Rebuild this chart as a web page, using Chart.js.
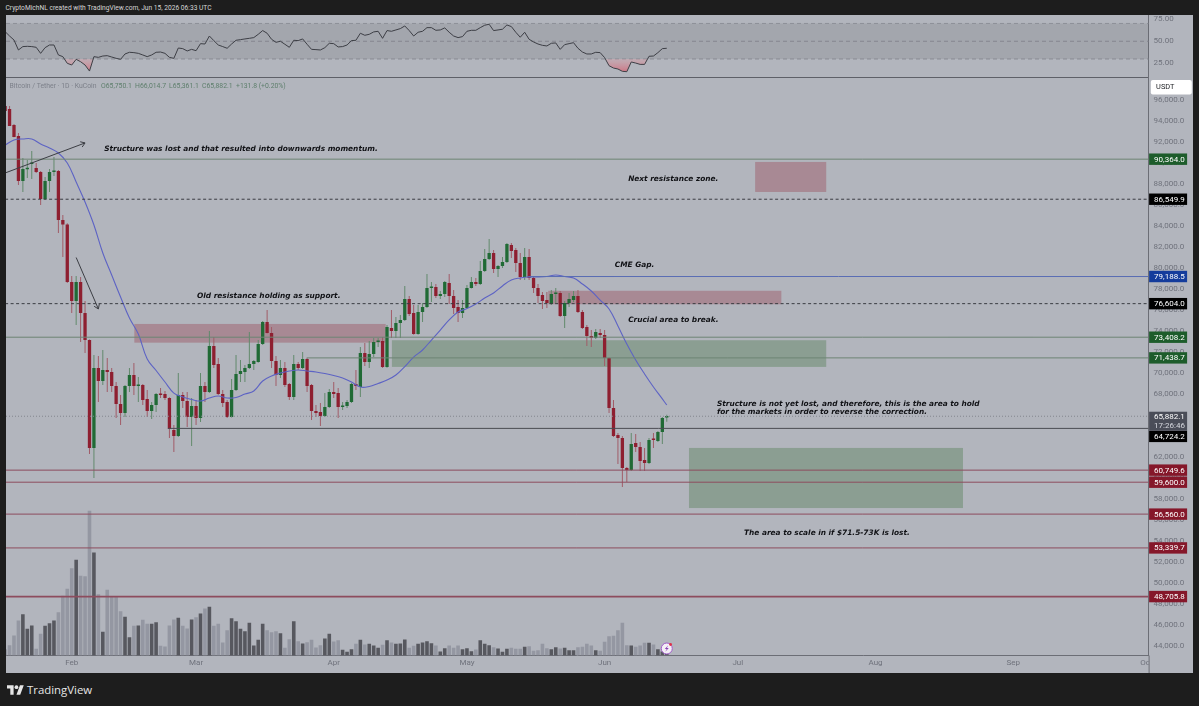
<!DOCTYPE html>
<html>
<head>
<meta charset="utf-8">
<title>BTC / USDT chart</title>
<script src="https://cdn.jsdelivr.net/npm/chart.js@4"></script>
<style>
    html, body { margin: 0; padding: 0; width: 1199px; height: 706px; overflow: hidden; background: #1d1d1d; }
    #panel { position: absolute; left: 6px; top: 15px; width: 1187px; height: 658px; background: #b2b5bd; }
    canvas { position: absolute; display: block; filter: blur(0.3px); }
    #rsiChart { left: 6px; top: 15px; }
    #priceChart { left: 6px; top: 78px; }
    .txt { position: absolute; white-space: nowrap; font-family: Roboto, sans-serif; }
    #header { left: 5.5px; top: 2px; font-size: 6.65px; line-height: 12px; color: #d6d6d6; }
    #symbol { left: 9.5px; top: 80px; font-size: 6.85px; line-height: 12px; color: #7d808a; }
    .ohlc { top: 80px; font-size: 6.85px; line-height: 12px; color: #5e7f6c; }
    #brand { left: 27px; top: 681px; font-size: 11.4px; line-height: 18px; font-weight: 500; color: #e6e6e6; font-family: "Open Sans", sans-serif; }
    #logo { position: absolute; left: 6.5px; top: 683px; }
</style>
</head>
<body>
<div id="panel"></div>
<canvas id="rsiChart" width="1187" height="63"></canvas>
<canvas id="priceChart" width="1187" height="595"></canvas>
<div class="txt" id="header">CryptoMichNL created with TradingView.com, Jun 15, 2026 06:33 UTC</div>
<div class="txt" id="symbol">Bitcoin / Tether · 1D · KuCoin</div>
<div class="txt ohlc" style="left:101px">O65,750.1</div>
<div class="txt ohlc" style="left:135px">H66,014.7</div>
<div class="txt ohlc" style="left:169px">L65,361.1</div>
<div class="txt ohlc" style="left:202px">C65,882.1</div>
<div class="txt ohlc" style="left:236px">+131.8 (+0.20%)</div>
<svg id="logo" width="17" height="14" viewBox="0 0 36 28"><path fill="#e6e6e6" d="M14 24H7V11H0V4h14v20zM28 24h-8l7.5-20h8L28 24z"/><circle fill="#e6e6e6" cx="20" cy="8" r="4"/></svg>
<div class="txt" id="brand">TradingView</div>

<script>
// daily candles, first one is 15 days before Feb 1 (day 0 = Feb 1)
const firstDay = -15;

const opens = [
    95430, 95140, 93620, 92570, 88290, 89400, 89910, 89520, 89140, 86570,
    88290, 89140, 89240, 84570, 84150, 78670, 76860, 78670, 75710, 73140,
    62860, 70480, 69240, 70290, 70100, 68760, 67050, 66190, 68760, 69810,
    68760, 68860, 67520, 66380, 66950, 67990, 67990, 67620, 64570, 64000,
    67900, 67330, 65810, 66860, 65710, 68760, 68190, 72570, 70860, 67990,
    67240, 65810, 68380, 69900, 70100, 70480, 70860, 71050, 72760, 74860,
    73810, 71140, 69810, 70480, 68950, 67720, 70860, 70480, 71330, 68860,
    66380, 66290, 65900, 66760, 68190, 68090, 66760, 66860, 67240, 68950,
    68670, 71900, 71050, 71810, 72950, 73050, 70570, 74280, 74000, 74760,
    75050, 77050, 75710, 73710, 75810, 76290, 78100, 78190, 77330, 77520,
    78570, 77330, 76290, 75710, 76190, 78100, 78670, 78480, 79710, 80860,
    81430, 79900, 80190, 80570, 82190, 81710, 80480, 79140, 81050, 79050,
    78100, 77430, 76950, 76570, 77520, 77620, 75430, 76670, 76950, 77330,
    75810, 74380, 73520, 73330, 73810, 73620, 71430, 66670, 64100, 63810,
    60950, 60760, 63330, 62950, 61710, 61430, 63710, 63520, 64380, 65750
];
const highs = [
    95520, 95430, 93710, 92860, 90480, 90290, 91140, 90000, 89240, 88670,
    89430, 90570, 89330, 85050, 84250, 79240, 79240, 79140, 76860, 73200,
    71710, 71620, 72190, 71430, 70480, 69140, 67900, 68860, 70480, 70950,
    69620, 68950, 68380, 67240, 68090, 68570, 68290, 67700, 65050, 70000,
    68190, 68190, 67620, 67430, 70000, 69140, 74000, 73430, 71430, 68380,
    67430, 69430, 71710, 71240, 70760, 73900, 71240, 73140, 74950, 76000,
    74380, 71620, 71240, 71050, 69050, 71710, 71050, 72000, 71430, 68950,
    66950, 67140, 68090, 68480, 69140, 68570, 67240, 67430, 69050, 70290,
    72480, 72860, 73050, 73330, 73330, 73430, 74570, 76000, 75330, 75520,
    78290, 77330, 76480, 76480, 76670, 79430, 78670, 78480, 77810, 78760,
    79430, 77900, 76950, 76950, 78380, 79140, 79050, 80670, 81810, 82760,
    81710, 80290, 81050, 82380, 82380, 81900, 81430, 81900, 81810, 79140,
    78480, 77710, 77710, 77900, 78100, 77810, 76860, 77620, 77810, 77900,
    76000, 74570, 74090, 74190, 74190, 74090, 71500, 67430, 64290, 64000,
    61050, 64290, 64190, 63430, 62860, 63810, 64290, 64480, 65810, 66014.7
];
const lows = [
    94860, 93530, 92450, 87910, 87240, 88570, 88480, 89050, 86000, 86480,
    87240, 88760, 83330, 81050, 78570, 75710, 74570, 72950, 71900, 62290,
    60000, 67240, 68860, 68190, 68190, 65710, 65050, 65810, 68190, 67900,
    67240, 66950, 65810, 65620, 66290, 67620, 67430, 63810, 62480, 63900,
    66670, 64860, 63050, 65050, 65330, 67240, 68100, 70480, 67900, 66760,
    65710, 65750, 68290, 69140, 69140, 70380, 70290, 70980, 72670, 73750,
    70480, 68760, 69530, 68670, 67430, 67430, 70290, 70380, 68190, 65520,
    65810, 64950, 65810, 66670, 67620, 65710, 66480, 66670, 67140, 68380,
    67720, 70670, 70480, 71520, 72480, 70480, 70500, 73330, 73330, 73330,
    74950, 75430, 73650, 73650, 74860, 76190, 76760, 77140, 77050, 77240,
    76570, 75620, 74860, 75240, 76150, 78050, 78290, 78380, 79620, 80760,
    79520, 79140, 80000, 80480, 80950, 79620, 78860, 78860, 78860, 77620,
    76670, 76100, 76190, 76480, 76670, 75330, 74280, 76290, 76760, 75710,
    74190, 72570, 72480, 73240, 73330, 70670, 66190, 63900, 61330, 59140,
    59620, 60670, 62480, 60670, 60670, 61330, 62860, 63430, 63240, 65361.1
];
const closes = [
    94950, 93530, 92480, 88290, 89430, 89520, 90000, 89140, 86570, 88290,
    89140, 89240, 84570, 84150, 78670, 76860, 78670, 75710, 73140, 62860,
    70480, 69240, 70290, 70100, 68760, 67050, 66190, 68760, 69810, 68760,
    68860, 67430, 66380, 66950, 67990, 67900, 67620, 64670, 64000, 67900,
    67330, 65810, 66860, 65710, 68760, 68190, 72570, 70760, 67990, 67140,
    65810, 68380, 69900, 70190, 70480, 70860, 71140, 72760, 74860, 73810,
    71140, 69810, 70480, 68860, 67720, 70860, 70480, 71330, 68760, 66380,
    66190, 65900, 66760, 68190, 67990, 66760, 66860, 67240, 68950, 68760,
    71900, 71050, 71810, 72950, 73050, 70570, 74380, 74000, 74760, 75050,
    77050, 75620, 73710, 75810, 76290, 78100, 78190, 77330, 77520, 78670,
    77330, 76190, 75710, 76190, 78100, 78670, 78480, 79710, 80860, 81430,
    79900, 80190, 80570, 82290, 81620, 80480, 79140, 81050, 79050, 78100,
    77330, 76860, 76670, 77520, 77620, 75430, 76670, 77050, 77330, 75810,
    74280, 73520, 73330, 73900, 73620, 71430, 66670, 64000, 63810, 60950,
    60760, 63240, 62950, 61620, 61430, 63620, 63620, 64380, 65710, 65882.1
];
const volumes = [
    19, 31, 60, 105, 124, 80, 90, 20, 65, 89,
    97, 105, 130, 179, 200, 262, 287, 239, 238, 434,
    309, 184, 71, 197, 177, 177, 133, 116, 55, 89,
    90, 107, 95, 95, 100, 29, 27, 90, 108, 113,
    89, 81, 108, 115, 126, 141, 146, 89, 95, 39,
    76, 112, 103, 80, 73, 98, 30, 47, 95, 76,
    70, 73, 67, 23, 49, 103, 43, 36, 40, 47,
    24, 31, 51, 65, 42, 46, 17, 11, 19, 35,
    47, 33, 35, 30, 23, 32, 46, 39, 35, 36,
    48, 23, 29, 35, 39, 43, 37, 30, 12, 22,
    30, 23, 30, 19, 22, 13, 18, 46, 35, 31,
    25, 21, 11, 20, 23, 20, 20, 26, 28, 14,
    16, 35, 22, 19, 25, 21, 23, 16, 16, 25,
    26, 35, 30, 16, 14, 41, 58, 59, 76, 98,
    31, 30, 26, 30, 38, 38, 33, 19, 12, 8
];
const rsiValues = [
    60.8, 55.9, 51.4, 40.2, 44.0, 44.3, 44.0, 43.2, 36.4, 42.8,
    45.8, 45.8, 34.6, 32.7, 25.2, 23.3, 29.7, 27.0, 23.3, 16.5,
    32.7, 31.9, 33.4, 33.8, 32.3, 30.8, 29.7, 35.7, 37.6, 37.2,
    36.4, 34.6, 32.7, 34.6, 37.6, 37.9, 36.4, 31.9, 30.8, 42.4,
    41.7, 39.1, 40.9, 39.4, 47.3, 46.9, 55.9, 50.7, 45.8, 44.0,
    42.1, 46.9, 51.1, 51.8, 52.6, 53.3, 54.1, 57.8, 62.0, 59.0,
    52.2, 48.8, 50.0, 46.6, 43.2, 51.1, 50.7, 52.6, 46.6, 40.9,
    40.6, 40.2, 42.8, 47.7, 47.3, 43.6, 44.0, 45.8, 50.7, 51.1,
    59.0, 56.7, 57.8, 60.5, 61.2, 53.3, 62.0, 61.2, 62.7, 64.2,
    67.2, 62.0, 55.9, 60.1, 61.2, 65.3, 65.3, 62.3, 62.7, 65.0,
    60.1, 55.9, 54.1, 55.2, 61.2, 62.3, 62.3, 65.3, 68.0, 69.1,
    62.0, 62.7, 63.5, 68.3, 66.5, 60.1, 54.5, 60.1, 52.2, 49.2,
    46.9, 45.4, 44.7, 47.7, 48.1, 40.9, 46.2, 47.3, 48.4, 42.1,
    37.9, 35.7, 35.7, 37.6, 37.2, 31.6, 22.5, 19.9, 18.8, 16.2,
    15.8, 26.7, 25.5, 24.0, 24.0, 33.1, 33.4, 37.2, 41.7, 42.1
];

// moving average, read every other day
const maDays = [
    -15, -13, -11, -9, -7, -5, -3, -1, 1, 3, 5, 7, 9, 11, 13, 15, 17, 19, 21, 23, 25, 27, 29, 31, 33,
    35, 37, 39, 41, 43, 45, 47, 49, 51, 53, 55, 57, 59, 61, 63, 65, 67, 69, 71, 73, 75, 77, 79, 81, 83,
    85, 87, 89, 91, 93, 95, 97, 99, 101, 103, 105, 107, 109, 111, 113, 115, 117, 119, 121, 123, 125,
    127, 129, 131, 133, 134
];
const maValues = [
    91710, 92190, 92290, 92290, 91810, 91430, 90950, 90000, 88190, 86290, 84100, 81430, 79330, 77240,
    75240, 73710, 71330, 70240, 69140, 68090, 67720, 67480, 67330, 67620, 67810,
    67620, 67670, 67990, 68290, 69240, 69720, 70000, 70190, 70290, 70190, 70100, 69950, 69760, 69520,
    69140, 68660, 68710, 69000, 69330, 69810, 70610, 71520, 72190, 73140, 74090,
    75050, 75810, 76140, 76570, 77140, 77620, 78290, 78860, 79050, 79140, 79140, 79190, 79330, 79190,
    79050, 78480, 77810, 76950, 76100, 74480, 72760, 71240, 69910, 68670, 67530, 66950
];

const priceTicks = [96000, 94000, 92000, 90000, 88000, 86000, 84000, 82000, 80000, 78000, 76000, 74000, 72000,
    70000, 68000, 66000, 64000, 62000, 60000, 58000, 56000, 54000, 52000, 50000, 48000, 46000, 44000];
const rsiTicks = [75, 50, 25];
const monthDays = [0, 28, 59, 89, 120, 150, 181, 212, 242];
const monthNames = ['Feb', 'Mar', 'Apr', 'May', 'Jun', 'Jul', 'Aug', 'Sep', 'Oct'];

// horizontal levels drawn on the chart
const levelPrices = [90364.0, 86549.9, 79188.5, 76604.0, 73408.2, 71438.7, 64724.2, 60749.6, 59600.0, 56560.0, 53339.7, 48705.8];
const levelFromDays = [-15, -15, 102.8, -15, -15, 52.9, 21.7, -15, -15, -15, -15, -15];
const levelKinds = ['green', 'dash', 'blue', 'dash', 'green', 'green', 'black', 'red', 'red', 'red', 'red', 'red'];
const lastPrice = 65882.1;
const countdown = '17:26:46';

// zones as [fromDay, toDay, priceHigh, priceLow]
const redZones = [[14.1, 70.7, 74670, 72890], [107.3, 159.8, 77830, 76550], [153.9, 169.9, 90100, 87240]];
const greenZones = [[72.1, 169.9, 73120, 70580], [139, 200.7, 62860, 57140]];

// arrows as [fromDay, fromPrice, toDay, toPrice]
const arrows = [[-15, 89050, 3, 91910], [1, 81000, 6, 76100]];

const noteTexts = [
    'Structure was lost and that resulted into downwards momentum.',
    'Old resistance holding as support.',
    'Next resistance zone.',
    'CME Gap.',
    'Crucial area to break.',
    'Structure is not yet lost, and therefore, this is the area to hold',
    'for the markets in order to reverse the correction.',
    'The area to scale in if $71.5-73K is lost.'
];
const noteDays = [7.3, 28.2, 125.3, 122.3, 125.3, 145.3, 145.3, 151.4];
const notePrices = [91330, 77330, 88480, 80290, 75080, 67050, 66290, 54760];

const xMin = -14.8;
const xMax = 242.5;
const axisWidth = 44.4;
const axisColor = '#6c6e76';
const tickColor = '#6f727c';
const fontName = 'Roboto, sans-serif';
const tagColors = { green: '#1d5c2b', dash: '#000000', blue: '#143c9c', black: '#000000', red: '#85172a' };
const lineColors = { green: '#6d8474', dash: '#3a3c42', blue: '#5a6db4', black: '#4a4c52', red: '#8d4c5e' };

const days = opens.map((o, i) => i + firstDay);
const isUp = i => closes[i] >= opens[i];

function formatPrice(value) {
    return value.toLocaleString('en-US', { minimumFractionDigits: 1, maximumFractionDigits: 1 });
}

function levelDatasets() {
    const sets = levelPrices.map((price, i) => ({
        type: 'line',
        data: [{ x: levelFromDays[i], y: price }, { x: xMax, y: price }],
        borderColor: lineColors[levelKinds[i]],
        borderWidth: i === levelPrices.length - 1 ? 1.6 : 1,
        borderDash: levelKinds[i] === 'dash' ? [3, 2.5] : [],
        pointRadius: 0,
        yAxisID: 'y',
        order: 1
    }));
    sets.push({
        type: 'line',
        data: [{ x: xMin, y: lastPrice }, { x: xMax, y: lastPrice }],
        borderColor: '#83868e',
        borderWidth: 1,
        borderDash: [1, 2],
        pointRadius: 0,
        yAxisID: 'y',
        order: 1
    });
    return sets;
}

function drawZones(chart, zones, color) {
    const { ctx, scales, chartArea } = chart;
    ctx.save();
    ctx.beginPath();
    ctx.rect(chartArea.left, chartArea.top, chartArea.width, chartArea.height);
    ctx.clip();
    ctx.fillStyle = color;
    zones.forEach(z => {
        const x0 = scales.x.getPixelForValue(z[0]);
        const x1 = scales.x.getPixelForValue(z[1]);
        const y0 = scales.y.getPixelForValue(z[2]);
        const y1 = scales.y.getPixelForValue(z[3]);
        ctx.fillRect(x0, y0, x1 - x0, y1 - y0);
    });
    ctx.restore();
}

function drawArrow(chart, a) {
    const { ctx, scales } = chart;
    const x0 = scales.x.getPixelForValue(a[0]);
    const y0 = scales.y.getPixelForValue(a[1]);
    const x1 = scales.x.getPixelForValue(a[2]);
    const y1 = scales.y.getPixelForValue(a[3]);
    const angle = Math.atan2(y1 - y0, x1 - x0);
    ctx.strokeStyle = '#3c3e44';
    ctx.lineWidth = 1;
    ctx.beginPath();
    ctx.moveTo(x0, y0);
    ctx.lineTo(x1, y1);
    ctx.moveTo(x1 - 5 * Math.cos(angle - 0.6), y1 - 5 * Math.sin(angle - 0.6));
    ctx.lineTo(x1, y1);
    ctx.lineTo(x1 - 5 * Math.cos(angle + 0.6), y1 - 5 * Math.sin(angle + 0.6));
    ctx.stroke();
}

function drawTag(ctx, x, y, w, h, color, text) {
    ctx.fillStyle = color;
    ctx.fillRect(x, y - h / 2, w, h);
    ctx.fillStyle = '#ffffff';
    ctx.fillText(text, x + 5, y + 0.5);
}

// zones, arrows, notes and price tags, everything placed through the scales
const notesPlugin = {
    id: 'notes',
    beforeDatasetsDraw(chart) {
        drawZones(chart, redZones, 'rgba(150, 60, 75, 0.36)');
        drawZones(chart, greenZones, 'rgba(70, 120, 70, 0.36)');
    },
    afterDatasetsDraw(chart) {
        const { ctx, scales, chartArea } = chart;
        ctx.save();
        ctx.beginPath();
        ctx.rect(chartArea.left, chartArea.top, chartArea.width, chartArea.height);
        ctx.clip();
        arrows.forEach(a => drawArrow(chart, a));

        ctx.fillStyle = '#111216';
        ctx.font = 'italic bold 7.4px "DejaVu Sans", sans-serif';
        ctx.textBaseline = 'middle';
        ctx.textAlign = 'left';
        noteTexts.forEach((text, i) => {
            ctx.fillText(text, scales.x.getPixelForValue(noteDays[i]), scales.y.getPixelForValue(notePrices[i]));
        });

        // alert badge sitting on the last volume bar
        const bx = scales.x.getPixelForValue(days[days.length - 1]);
        const by = chartArea.bottom - 7;
        ctx.beginPath();
        ctx.arc(bx, by, 5.5, 0, Math.PI * 2);
        ctx.fillStyle = '#f3eef6';
        ctx.fill();
        ctx.lineWidth = 1;
        ctx.strokeStyle = '#a05cc8';
        ctx.stroke();
        ctx.beginPath();
        ctx.moveTo(bx + 1.5, by - 3.2);
        ctx.lineTo(bx - 2, by + 0.6);
        ctx.lineTo(bx, by + 0.6);
        ctx.lineTo(bx - 1.5, by + 3.2);
        ctx.lineTo(bx + 2, by - 0.6);
        ctx.lineTo(bx, by - 0.6);
        ctx.closePath();
        ctx.fillStyle = '#8a3fb5';
        ctx.fill();
        ctx.beginPath();
        ctx.arc(bx + 3.8, by - 4, 1.4, 0, Math.PI * 2);
        ctx.fillStyle = '#e0304a';
        ctx.fill();
        ctx.restore();
    },
    afterDraw(chart) {
        const { ctx, scales, chartArea } = chart;
        const axisX = chartArea.right;
        const tagX = axisX + 0.5;
        ctx.save();

        // price column covers the month label running under it
        ctx.fillStyle = '#b2b5bd';
        ctx.fillRect(axisX, chartArea.bottom + 1, axisWidth, 18);
        ctx.strokeStyle = axisColor;
        ctx.lineWidth = 1;
        ctx.beginPath();
        ctx.moveTo(axisX + 0.5, chartArea.bottom);
        ctx.lineTo(axisX + 0.5, chart.height);
        ctx.stroke();

        ctx.font = '8px ' + fontName;
        ctx.textBaseline = 'middle';
        ctx.textAlign = 'left';
        levelPrices.forEach((price, i) => {
            let y = scales.y.getPixelForValue(price);
            if (price === 64724.2) y += 8;   // pushed down by the last price tag
            drawTag(ctx, tagX, y, 38, 11.4, tagColors[levelKinds[i]], formatPrice(price));
        });

        const lastY = scales.y.getPixelForValue(lastPrice);
        ctx.fillStyle = '#4a4d58';
        ctx.fillRect(tagX, lastY - 4.5, 38, 19);
        ctx.fillStyle = '#ffffff';
        ctx.fillText(formatPrice(lastPrice), tagX + 5, lastY + 0.5);
        ctx.fillStyle = '#d8dae0';
        ctx.fillText(countdown, tagX + 5, lastY + 9.5);

        // currency button
        ctx.fillStyle = '#ffffff';
        ctx.beginPath();
        ctx.roundRect(tagX + 1.7, 2, 41, 14.4, 2);
        ctx.fill();
        ctx.fillStyle = '#222428';
        ctx.font = '7.4px ' + fontName;
        ctx.fillText('USDT', tagX + 7, 9.5);
        ctx.restore();
    }
};

function drawPriceChart() {
    const bodyData = days.map((d, i) => ({ x: d, y: [opens[i], closes[i]] }));
    const wickData = days.map((d, i) => ({ x: d, y: [lows[i], highs[i]] }));
    const volumeData = days.map((d, i) => ({ x: d, y: volumes[i] }));
    const maData = maDays.map((d, i) => ({ x: d, y: maValues[i] }));

    const datasets = [
        {
            type: 'bar',
            data: volumeData,
            yAxisID: 'yVol',
            grouped: false,
            barPercentage: 0.9,
            categoryPercentage: 1,
            maxBarThickness: 3.6,
            backgroundColor: days.map((d, i) => isUp(i) ? '#57585f' : '#9497a2'),
            order: 6
        },
        {
            type: 'bar',
            data: wickData,
            yAxisID: 'y',
            grouped: false,
            barPercentage: 0.9,
            categoryPercentage: 1,
            maxBarThickness: 1,
            backgroundColor: days.map((d, i) => isUp(i) ? '#628a6c' : '#a15c68'),
            order: 5
        },
        {
            type: 'bar',
            data: bodyData,
            yAxisID: 'y',
            grouped: false,
            barPercentage: 0.9,
            categoryPercentage: 1,
            maxBarThickness: 3.3,
            minBarLength: 1.5,
            backgroundColor: days.map((d, i) => isUp(i) ? '#206a35' : '#8e1f30'),
            order: 4
        },
        {
            type: 'line',
            data: maData,
            yAxisID: 'y',
            borderColor: '#5d63c4',
            borderWidth: 1.1,
            tension: 0.4,
            pointRadius: 0,
            order: 2
        }
    ].concat(levelDatasets());

    new Chart(document.getElementById('priceChart'), {
        data: { datasets },
        plugins: [notesPlugin],
        options: {
            responsive: false,
            animation: false,
            devicePixelRatio: 1,
            events: [],
            layout: { padding: 0 },
            plugins: { legend: { display: false }, tooltip: { enabled: false } },
            scales: {
                x: {
                    type: 'linear',
                    offset: false,
                    min: xMin,
                    max: xMax,
                    grid: { display: false, drawTicks: false },
                    border: { color: axisColor },
                    afterBuildTicks: scale => { scale.ticks = monthDays.map(v => ({ value: v })); },
                    afterFit: scale => { scale.height = 17.5; scale.paddingLeft = 0; scale.paddingRight = 0; },
                    ticks: {
                        autoSkip: false,
                        maxRotation: 0,
                        padding: 3,
                        color: tickColor,
                        font: { size: 8, family: fontName },
                        callback: value => monthNames[monthDays.indexOf(value)]
                    }
                },
                y: {
                    position: 'right',
                    offset: false,
                    min: 43095,
                    max: 98095,
                    grid: { display: false, drawTicks: false },
                    border: { color: axisColor },
                    afterBuildTicks: scale => { scale.ticks = priceTicks.map(v => ({ value: v })); },
                    afterFit: scale => { scale.width = axisWidth; scale.paddingTop = 0; scale.paddingBottom = 0; },
                    ticks: {
                        autoSkip: false,
                        padding: 5,
                        color: tickColor,
                        font: { size: 8, family: fontName },
                        callback: value => formatPrice(value)
                    }
                },
                yVol: { display: false, offset: false, min: 0, max: 1732.5 }
            }
        }
    });
}

function drawRsiChart() {
    const canvas = document.getElementById('rsiChart');
    const rsiData = days.map((d, i) => ({ x: d, y: rsiValues[i] }));
    const band = [70, 50, 30];

    const oversold = canvas.getContext('2d').createLinearGradient(0, 44, 0, 58);
    oversold.addColorStop(0, 'rgba(225, 150, 160, 0.3)');
    oversold.addColorStop(1, 'rgba(220, 70, 90, 0.65)');

    const bandSets = band.map(level => ({
        type: 'line',
        data: [{ x: xMin, y: level }, { x: xMax, y: level }],
        borderColor: '#8d9098',
        borderWidth: 1,
        borderDash: [4, 3],
        pointRadius: 0,
        fill: level === 70 ? { target: { value: 30 } } : false,
        backgroundColor: 'rgba(80, 80, 90, 0.15)',
        order: 3
    }));

    new Chart(canvas, {
        data: {
            datasets: [{
                type: 'line',
                data: rsiData,
                borderColor: '#3d3f45',
                borderWidth: 1,
                pointRadius: 0,
                fill: { target: { value: 30 }, above: 'rgba(0, 0, 0, 0)', below: oversold },
                order: 1
            }].concat(bandSets)
        },
        options: {
            responsive: false,
            animation: false,
            devicePixelRatio: 1,
            events: [],
            layout: { padding: 0 },
            plugins: { legend: { display: false }, tooltip: { enabled: false } },
            scales: {
                x: {
                    type: 'linear',
                    offset: false,
                    min: xMin,
                    max: xMax,
                    grid: { display: false, drawTicks: false },
                    border: { color: '#5e6068', width: 1.5 },
                    afterFit: scale => { scale.height = 0; scale.paddingLeft = 0; scale.paddingRight = 0; },
                    ticks: { display: false }
                },
                y: {
                    position: 'right',
                    offset: false,
                    min: 8.7,
                    max: 79.5,
                    grid: { display: false, drawTicks: false },
                    border: { color: axisColor },
                    afterBuildTicks: scale => { scale.ticks = rsiTicks.map(v => ({ value: v })); },
                    afterFit: scale => { scale.width = axisWidth; scale.paddingTop = 0; scale.paddingBottom = 0; },
                    ticks: {
                        autoSkip: false,
                        padding: 5,
                        color: tickColor,
                        font: { size: 8, family: fontName },
                        callback: value => value.toFixed(2)
                    }
                }
            }
        }
    });
}

drawRsiChart();
drawPriceChart();
</script>
</body>
</html>
